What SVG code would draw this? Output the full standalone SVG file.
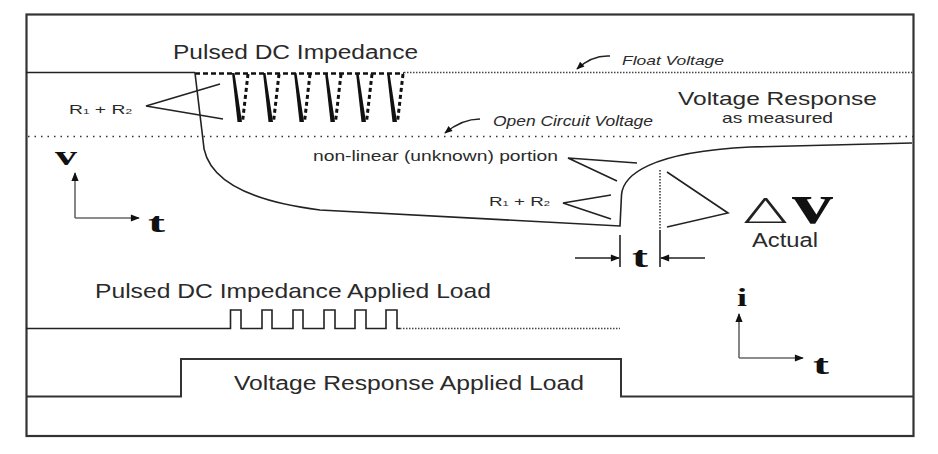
<svg xmlns="http://www.w3.org/2000/svg" width="938" height="454" viewBox="0 0 938 454">
<style>
.ln{fill:none;stroke:#222;stroke-width:1.6}
.ax{fill:none;stroke:#666;stroke-width:1.6}
.dotf{fill:none;stroke:#444;stroke-width:1.3;stroke-dasharray:1.5 1.5}
.doto{fill:none;stroke:#333;stroke-width:1.5;stroke-dasharray:1.5 5}
.txt{font-family:"Liberation Sans",Arial,sans-serif;fill:#2a2a2a}
.it{font-style:italic}
.sym{font-family:"Liberation Serif","Times New Roman",serif;font-weight:bold;fill:#111}
.sub{font-size:8px}
.vs{fill:#111}
.vd{fill:none;stroke:#111;stroke-width:3;stroke-dasharray:4 3}
</style>
<defs>
<marker id="ah" viewBox="0 0 10 10" refX="9" refY="5" markerWidth="11" markerHeight="9" markerUnits="userSpaceOnUse" orient="auto"><path d="M0,1 L10,5 L0,9 z" fill="#111"/></marker>
<marker id="ahs" viewBox="0 0 10 10" refX="9" refY="5" markerWidth="9" markerHeight="8" markerUnits="userSpaceOnUse" orient="auto"><path d="M0,1 L10,5 L0,9 z" fill="#111"/></marker>
<path id="vsol" d="M0,0 L2.5,0 L10,49 L5.5,49 z"/>
<path id="vdash" d="M16,1 L10.5,49"/>
</defs>
<rect x="0" y="0" width="938" height="454" fill="#fff"/>
<g id="frame"><rect x="26.5" y="14.5" width="887" height="421.5" fill="none" stroke="#333" stroke-width="2.2"/></g>

<g id="connectors">
<!-- float voltage level -->
<path class="ln" d="M26,72.5 L195,72.5"/>
<path class="dotf" d="M404,72.5 L913,72.5"/>
<!-- open circuit level -->
<path class="doto" d="M28,136.5 L913,136.5"/>
<!-- pulsed region -->
<path d="M195,73.5 L404,73.5" fill="none" stroke="#111" stroke-width="2.5" stroke-dasharray="5 3"/>
<g>
<use href="#vsol" class="vs" x="232" y="73"/><use href="#vdash" class="vd" x="232" y="73"/>
<use href="#vsol" class="vs" x="263" y="73"/><use href="#vdash" class="vd" x="263" y="73"/>
<use href="#vsol" class="vs" x="294" y="73"/><use href="#vdash" class="vd" x="294" y="73"/>
<use href="#vsol" class="vs" x="325" y="73"/><use href="#vdash" class="vd" x="325" y="73"/>
<use href="#vsol" class="vs" x="356" y="73"/><use href="#vdash" class="vd" x="356" y="73"/>
<use href="#vsol" class="vs" x="387" y="73"/><use href="#vdash" class="vd" x="387" y="73"/>
</g>
<!-- voltage response curve -->
<path class="ln" d="M195,73 L203,140 C204,175 240,200 320,210 L620,226 L621.5,195 C623,175 650,152 750,147 L912,143"/>
<!-- label arrows -->
<path class="ln" d="M610,56 Q592,55 577,69" marker-end="url(#ahs)"/>
<path class="ln" d="M480,119 Q462,119 445,133" marker-end="url(#ahs)"/>
<!-- pointers -->
<path class="ln" d="M220,84 L146,106 L223,119"/>
<path class="ln" d="M637,163 L568,158 L617,181"/>
<path class="ln" d="M611,195 L563,203 L611,219"/>
<path class="ln" d="M667,172 L728,213 L667,227"/>
<!-- dimension t -->
<path d="M660,170 L660,230" fill="none" stroke="#333" stroke-width="1.5" stroke-dasharray="1.5 1.5"/>
<path class="ln" d="M660,230 L660,267"/>
<path class="ln" d="M620,235 L620,267"/>
<path class="ln" d="M575,258 L619,258" marker-end="url(#ah)"/>
<path class="ln" d="M705,258 L661,258" marker-end="url(#ah)"/>
<!-- axes -->
<path class="ax" d="M75,218 L75,173" marker-end="url(#ah)"/>
<path class="ax" d="M75,218 L139,218" marker-end="url(#ah)"/>
<path class="ax" d="M739,358 L739,314" marker-end="url(#ah)"/>
<path class="ax" d="M739,358 L803,358" marker-end="url(#ah)"/>
<!-- pulsed load -->
<path class="ln" d="M26,328.5 L230.5,328.5 L230.5,310 L241,310 L241,328.5 L262,328.5 L262,310 L272,310 L272,328.5 L293,328.5 L293,310 L303,310 L303,328.5 L324,328.5 L324,310 L335,310 L335,328.5 L355,328.5 L355,310 L366,310 L366,328.5 L386,328.5 L386,310 L397,310 L397,328.5 L400,328.5"/>
<path class="dotf" d="M400,328.5 L620,328.5"/>
<!-- voltage response load -->
<path d="M26,396.5 L181,396.5 L181,359 L621,359 L621,396.5 L913,396.5" fill="none" stroke="#333" stroke-width="2"/>
</g>

<g id="title-pulsed"><text class="txt" x="173" y="59" font-size="20" textLength="245" lengthAdjust="spacingAndGlyphs">Pulsed DC Impedance</text></g>
<g id="float-label"><text class="txt it" x="622" y="65" font-size="13" textLength="102" lengthAdjust="spacingAndGlyphs">Float Voltage</text></g>
<g id="ocv-label"><text class="txt it" x="493" y="126" font-size="14" textLength="160" lengthAdjust="spacingAndGlyphs">Open Circuit Voltage</text></g>
<g id="vr-label">
<text class="txt" x="678" y="105" font-size="18.5" textLength="199" lengthAdjust="spacingAndGlyphs">Voltage Response</text>
<text class="txt" x="722" y="123" font-size="14.5" textLength="111" lengthAdjust="spacingAndGlyphs">as measured</text>
</g>
<g id="r12-left"><text class="txt" x="69" y="114" font-size="13" textLength="63" lengthAdjust="spacingAndGlyphs">R<tspan class="sub">1</tspan> + R<tspan class="sub">2</tspan></text></g>
<g id="nonlinear-label"><text class="txt" x="313" y="161" font-size="15" textLength="245" lengthAdjust="spacingAndGlyphs">non-linear (unknown) portion</text></g>
<g id="r12-mid"><text class="txt" x="489" y="206" font-size="13.5" textLength="61" lengthAdjust="spacingAndGlyphs">R<tspan class="sub">1</tspan> + R<tspan class="sub">2</tspan></text></g>
<g id="delta-v">
<text x="742" y="223" font-family="Inter,'Liberation Sans',sans-serif" font-weight="200" font-size="34" fill="#222" textLength="47" lengthAdjust="spacingAndGlyphs">Δ</text>
<text class="sym" x="792" y="223" font-size="56" textLength="41" lengthAdjust="spacingAndGlyphs">v</text>
<text class="txt" x="752" y="247" font-size="20" textLength="66" lengthAdjust="spacingAndGlyphs">Actual</text>
</g>
<g id="dim-t"><text class="sym" x="632" y="267" font-size="30" textLength="16" lengthAdjust="spacingAndGlyphs">t</text></g>
<g id="axes-vt">
<text class="sym" x="55" y="165" font-size="28" textLength="22" lengthAdjust="spacingAndGlyphs">v</text>
<text class="sym" x="148" y="232" font-size="28" textLength="17" lengthAdjust="spacingAndGlyphs">t</text>
</g>
<g id="axes-it">
<text class="sym" x="737" y="306" font-size="25" textLength="10" lengthAdjust="spacingAndGlyphs">i</text>
<text class="sym" x="813" y="374" font-size="28" textLength="16" lengthAdjust="spacingAndGlyphs">t</text>
</g>
<g id="pulsed-load-label"><text class="txt" x="95" y="298" font-size="21" textLength="396" lengthAdjust="spacingAndGlyphs">Pulsed DC Impedance Applied Load</text></g>
<g id="vr-load-label"><text class="txt" x="234" y="390" font-size="19.5" textLength="350" lengthAdjust="spacingAndGlyphs">Voltage Response Applied Load</text></g>
</svg>
